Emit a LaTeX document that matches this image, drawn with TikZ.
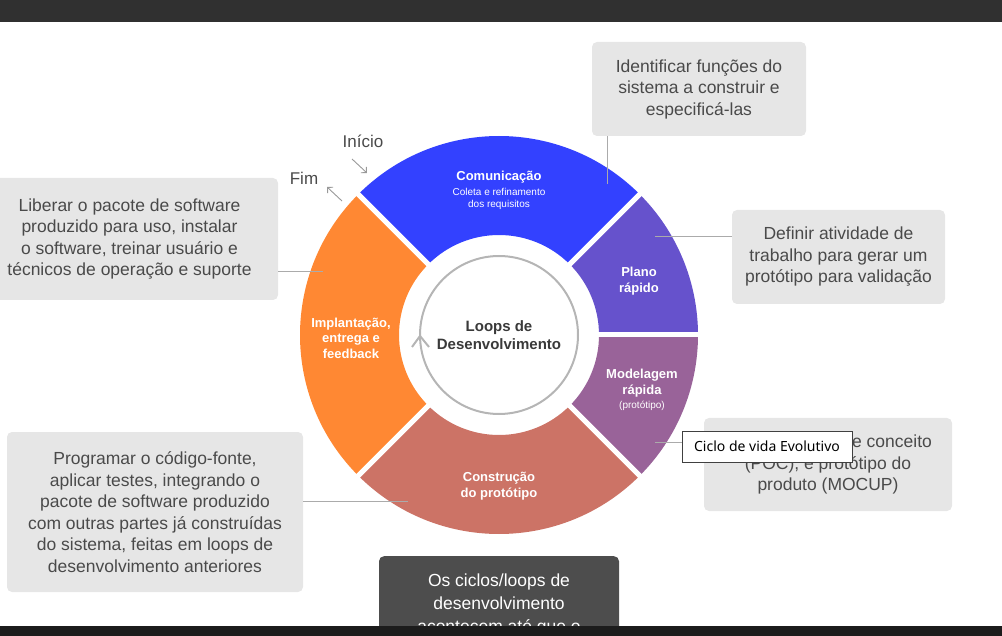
\documentclass[tikz,border=0pt]{standalone}
\usepackage{fontspec}
\setmainfont{Liberation Sans}
\newfontfamily\tipfont{Noto Sans}
\usepackage{tikz}
\usetikzlibrary{arrows.meta,positioning,calc}
\usepackage{xcolor}
\definecolor{commblue}{HTML}{3341FF}
\definecolor{planviolet}{HTML}{6652CC}
\definecolor{modpurple}{HTML}{996399}
\definecolor{buildred}{HTML}{CC7366}
\definecolor{deployorange}{HTML}{FF8833}
\definecolor{notegray}{HTML}{E6E6E6}
\definecolor{notetext}{HTML}{4A4A4A}
\definecolor{pingray}{HTML}{ABABAB}
\definecolor{ringgray}{HTML}{B5B5B5}
\definecolor{hubtext}{HTML}{3A3A3A}
\definecolor{darkfill}{HTML}{4D4D4D}
\definecolor{topbar}{HTML}{303030}
\definecolor{bottombar}{HTML}{1C1C1C}
\newcommand{\ringpart}[3]{% start angle, end angle, colour
  \fill[#3] ([shift={(hub)}]#1:199) arc[start angle=#1, end angle=#2, radius=199]
    -- ([shift={(hub)}]#2:100) arc[start angle=#2, end angle=#1, radius=100] -- cycle;}

\begin{document}
\begin{tikzpicture}[x=1pt, y=1pt,
        notebox/.style={fill=notegray, rounded corners=5pt, text=notetext, align=center, inner sep=0pt, font=\fontsize{17.5}{21.5}\selectfont},
        darkbox/.style={fill=darkfill, rounded corners=5pt, text=white, align=center, inner sep=0pt, font=\fontsize{17.5}{23}\selectfont},
        seglabel/.style={text=white, align=center, font=\bfseries\fontsize{13}{15.5}\selectfont},
        sublabel/.style={text=white, align=center, font=\fontsize{10}{12}\selectfont},
        hublabel/.style={text=hubtext, align=center, font=\bfseries\fontsize{15}{18}\selectfont},
        startlabel/.style={text=notetext, font=\fontsize{17}{20}\selectfont},
        tooltip/.style={draw=black!75, fill=white, line width=0.8pt, minimum width=170, minimum height=31, inner sep=0pt, font=\tipfont\fontsize{14}{16}\selectfont},
        pin/.style={draw=pingray, line width=1pt},
        thinarrow/.style={-{Straight Barb[length=4pt,width=8pt]}, draw=black!40, line width=0.9pt}
    ]
        \useasboundingbox (0,0) rectangle (1002,-636);
        \clip (0,0) rectangle (1002,-636);
        \fill[topbar] (0,0) rectangle (1002,-22);

        % Ring
        \coordinate (hub) at (499,-335);
        \ringpart{45}{135}{commblue}
        \ringpart{0}{45}{planviolet}
        \ringpart{-45}{0}{modpurple}
        \ringpart{225}{315}{buildred}
        \ringpart{135}{225}{deployorange}
        \foreach \a in {0,45,135,225,315}
            \draw[white, line width=5pt] ([shift={(hub)}]\a:97) -- ([shift={(hub)}]\a:202);
        \draw[ringgray, line width=2pt] (hub) circle[radius=79];
        \coordinate (turn) at (420,-336);
        \draw[ringgray, line width=2pt] ($(turn)+(-8,-11)$) -- (turn) -- ($(turn)+(9,-11)$);

        % Ring labels
        \node[hublabel] (loops) at (499,-335) {Loops de\\Desenvolvimento};
        \node[seglabel] (comm) at (499,-177) {Comunicação};
        \node[sublabel] (commsub) at (499,-199) {Coleta e refinamento\\dos requisitos};
        \node[seglabel] (plan) at (639,-281) {Plano\\rápido};
        \node[seglabel] (model) at (642,-383) {Modelagem\\rápida};
        \node[sublabel, below=-3pt of model] (modelsub) {(protótipo)};
        \node[seglabel] (build) at (499,-486) {Construção\\do protótipo};
        \node[seglabel] (deploy) at (351,-338) {Implantação,\\entrega e\\feedback};

        % Start and end
        \node[startlabel] (inicio) at (363,-141) {Início};
        \node[startlabel] (fim) at (304,-178) {Fim};
        \coordinate (ini-a) at (352,-159);
        \coordinate (ini-b) at (367,-173);
        \coordinate (fim-a) at (342,-201);
        \coordinate (fim-b) at (327,-187);
        \draw[thinarrow] (ini-a) -- (ini-b);
        \draw[thinarrow] (fim-a) -- (fim-b);

        % Notes
        \node[notebox, minimum width=214, minimum height=94] (identbox) at (699,-89) {Identificar funções do\\sistema a construir e\\especificá-las};
        \node[notebox, minimum width=213, minimum height=94] (defbox) at (838.5,-257) {Definir atividade de\\trabalho para gerar um\\protótipo para validação};
        \node[notebox, minimum width=248, minimum height=93] (provabox) at (828,-464.5) {\hspace*{128pt}e conceito\\(POC), e protótipo do\\produto (MOCUP)};
        \node[notebox, minimum width=297, minimum height=122] (liberbox) at (129.5,-239) {Liberar o pacote de software\\produzido para uso, instalar\\o software, treinar usuário e\\técnicos de operação e suporte};
        \node[notebox, minimum width=296, minimum height=160] (progbox) at (155,-512) {Programar o código-fonte,\\aplicar testes, integrando o\\pacote de software produzido\\com outras partes já construídas\\do sistema, feitas em loops de\\desenvolvimento anteriores};
        \node[darkbox, anchor=north, minimum width=240, minimum height=98] (cycles) at (499,-556) {Os ciclos/loops de\\desenvolvimento\\acontecem até que o};

        % Pins
        \coordinate (comm-pin) at (607,-184);
        \coordinate (plan-pin) at (655,-237);
        \coordinate (model-pin) at (655,-442);
        \coordinate (build-pin) at (408,-501);
        \coordinate (deploy-pin) at (323,-272);
        \draw[pin] (comm-pin) -- (comm-pin |- identbox.south);
        \draw[pin] (plan-pin) -- (plan-pin -| defbox.west);
        \draw[pin] (model-pin) -- (model-pin -| provabox.west);
        \draw[pin] (build-pin) -- (build-pin -| progbox.east);
        \draw[pin] (deploy-pin) -- (deploy-pin -| liberbox.east);

        \node[tooltip] (tip) at (767,-446.5) {Ciclo de vida Evolutivo};
        \fill[bottombar] (0,-626) rectangle (1002,-636);
    \end{tikzpicture}
\end{document}
